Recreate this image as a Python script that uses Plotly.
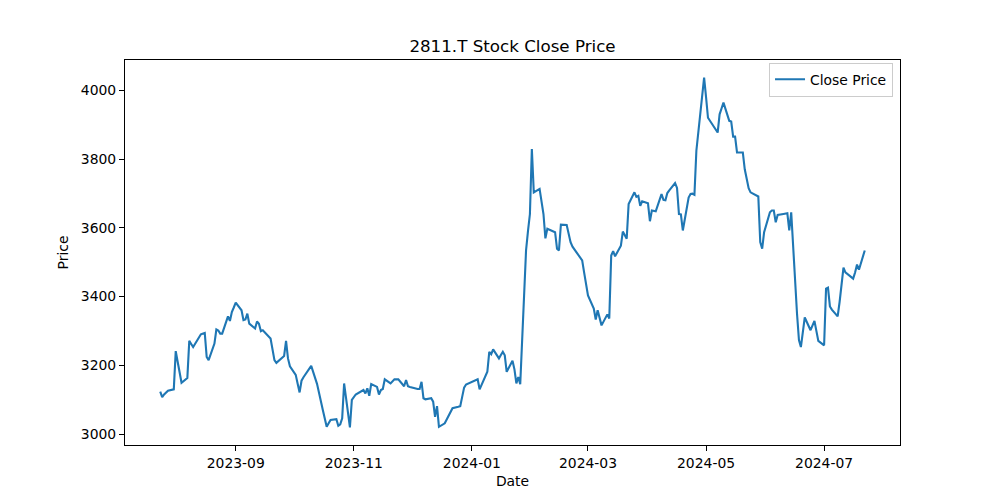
import plotly.graph_objects as go

dates = [
    "2023-07-24", "2023-07-25", "2023-07-26", "2023-07-27", "2023-07-28", "2023-07-31",
    "2023-08-01", "2023-08-02", "2023-08-03", "2023-08-04", "2023-08-07", "2023-08-08",
    "2023-08-09", "2023-08-10", "2023-08-14", "2023-08-15", "2023-08-16", "2023-08-17",
    "2023-08-18", "2023-08-21", "2023-08-22", "2023-08-23", "2023-08-24", "2023-08-25",
    "2023-08-28", "2023-08-29", "2023-08-30", "2023-08-31",
    "2023-09-01", "2023-09-04", "2023-09-05", "2023-09-06", "2023-09-07", "2023-09-08",
    "2023-09-11", "2023-09-12", "2023-09-13", "2023-09-14", "2023-09-15", "2023-09-19",
    "2023-09-20", "2023-09-21", "2023-09-22", "2023-09-25", "2023-09-26", "2023-09-27",
    "2023-09-28", "2023-09-29",
    "2023-10-02", "2023-10-03", "2023-10-04", "2023-10-05", "2023-10-06", "2023-10-10",
    "2023-10-11", "2023-10-12", "2023-10-13", "2023-10-16", "2023-10-17", "2023-10-18",
    "2023-10-19", "2023-10-20", "2023-10-23", "2023-10-24", "2023-10-25", "2023-10-26",
    "2023-10-27", "2023-10-30", "2023-10-31",
    "2023-11-01", "2023-11-02", "2023-11-06", "2023-11-07", "2023-11-08", "2023-11-09",
    "2023-11-10", "2023-11-13", "2023-11-14", "2023-11-15", "2023-11-16", "2023-11-17",
    "2023-11-20", "2023-11-21", "2023-11-22", "2023-11-24", "2023-11-27", "2023-11-28",
    "2023-11-29", "2023-11-30",
    "2023-12-01", "2023-12-04", "2023-12-05", "2023-12-06", "2023-12-07", "2023-12-08",
    "2023-12-11", "2023-12-12", "2023-12-13", "2023-12-14", "2023-12-15", "2023-12-18",
    "2023-12-19", "2023-12-20", "2023-12-21", "2023-12-22", "2023-12-25", "2023-12-26",
    "2023-12-27", "2023-12-28", "2023-12-29",
    "2024-01-04", "2024-01-05", "2024-01-09", "2024-01-10", "2024-01-11", "2024-01-12",
    "2024-01-15", "2024-01-16", "2024-01-17", "2024-01-18", "2024-01-19", "2024-01-22",
    "2024-01-23", "2024-01-24", "2024-01-25", "2024-01-26", "2024-01-29", "2024-01-30",
    "2024-01-31",
    "2024-02-01", "2024-02-02", "2024-02-05", "2024-02-06", "2024-02-07", "2024-02-08",
    "2024-02-09", "2024-02-13", "2024-02-14", "2024-02-15", "2024-02-16", "2024-02-19",
    "2024-02-20", "2024-02-21", "2024-02-22", "2024-02-26", "2024-02-27", "2024-02-28",
    "2024-02-29",
    "2024-03-01", "2024-03-04", "2024-03-05", "2024-03-06", "2024-03-07", "2024-03-08",
    "2024-03-11", "2024-03-12", "2024-03-13", "2024-03-14", "2024-03-15", "2024-03-18",
    "2024-03-19", "2024-03-21", "2024-03-22", "2024-03-25", "2024-03-26", "2024-03-27",
    "2024-03-28", "2024-03-29",
    "2024-04-01", "2024-04-02", "2024-04-03", "2024-04-04", "2024-04-05", "2024-04-08",
    "2024-04-09", "2024-04-10", "2024-04-11", "2024-04-12", "2024-04-15", "2024-04-16",
    "2024-04-17", "2024-04-18", "2024-04-19", "2024-04-22", "2024-04-23", "2024-04-24",
    "2024-04-25", "2024-04-26", "2024-04-30",
    "2024-05-01", "2024-05-02", "2024-05-07", "2024-05-08", "2024-05-09", "2024-05-10",
    "2024-05-13", "2024-05-14", "2024-05-15", "2024-05-16", "2024-05-17", "2024-05-20",
    "2024-05-21", "2024-05-22", "2024-05-23", "2024-05-24", "2024-05-27", "2024-05-28",
    "2024-05-29", "2024-05-30", "2024-05-31",
    "2024-06-03", "2024-06-04", "2024-06-05", "2024-06-06", "2024-06-07", "2024-06-10",
    "2024-06-11", "2024-06-12", "2024-06-13", "2024-06-14", "2024-06-17", "2024-06-18",
    "2024-06-19", "2024-06-20", "2024-06-21", "2024-06-24", "2024-06-25", "2024-06-26",
    "2024-06-27", "2024-06-28",
    "2024-07-01", "2024-07-02", "2024-07-03", "2024-07-04", "2024-07-05", "2024-07-08",
    "2024-07-09", "2024-07-10", "2024-07-11", "2024-07-12", "2024-07-16", "2024-07-17",
    "2024-07-18", "2024-07-19", "2024-07-22",
]

close_price = [
    3123, 3107, 3115, 3122, 3126, 3130,
    3241, 3210, 3180, 3149, 3163, 3271,
    3262, 3253, 3290, 3292, 3294, 3224,
    3215, 3263, 3304, 3301, 3292, 3292,
    3342, 3329, 3355, 3368,
    3382, 3360, 3331, 3333, 3350, 3321,
    3307, 3327, 3321, 3299, 3302, 3278,
    3250, 3215, 3207, 3224, 3227, 3271,
    3220, 3197,
    3172, 3146, 3121, 3155, 3165, 3198,
    3182, 3166, 3146, 3070, 3045, 3021,
    3031, 3041, 3043, 3024, 3028, 3046,
    3147, 3019, 3099,
    3108, 3115, 3128, 3118, 3133, 3111,
    3145, 3137, 3115, 3128, 3131, 3159,
    3147, 3153, 3159, 3159, 3139, 3157,
    3139, 3137,
    3135, 3131, 3131, 3152, 3104, 3101,
    3104, 3094, 3050, 3081, 3021, 3031,
    3042, 3053, 3064, 3075, 3079, 3081,
    3108, 3135, 3144,
    3159, 3130, 3181, 3239, 3232, 3246,
    3220, 3230, 3239, 3229, 3181, 3213,
    3188, 3147, 3166, 3145, 3534, 3590,
    3640,
    3829, 3703, 3713, 3677, 3640, 3569,
    3597, 3587, 3539, 3534, 3609, 3608,
    3585, 3558, 3545, 3510, 3505, 3470,
    3436,
    3403, 3365, 3333, 3360, 3338, 3316,
    3348, 3336, 3519, 3532, 3517, 3548,
    3589, 3568, 3669, 3703, 3690, 3693,
    3664, 3677,
    3671, 3619, 3650, 3649, 3648, 3698,
    3681, 3680, 3701, 3709, 3730, 3716,
    3640, 3639, 3592, 3688, 3698, 3699,
    3696, 3824, 4037,
    3980, 3920, 3877, 3930, 3947, 3964,
    3911, 3909, 3865, 3865, 3819, 3819,
    3770, 3742, 3715, 3703, 3693, 3691,
    3558, 3539, 3587,
    3645, 3650, 3650, 3616, 3637, 3640,
    3640, 3642, 3592, 3645, 3350, 3273,
    3253, 3296, 3339, 3302, 3315, 3329,
    3300, 3271,
    3258, 3423, 3426, 3371, 3362, 3342,
    3384, 3434, 3484, 3470, 3452, 3470,
    3493, 3478, 3534,
]

x_ticks = ["2023-09-01", "2023-11-01", "2024-01-01", "2024-03-01", "2024-05-01", "2024-07-01"]
x_tick_labels = ["2023-09", "2023-11", "2024-01", "2024-03", "2024-05", "2024-07"]
y_ticks = [3000, 3200, 3400, 3600, 3800, 4000]

FONT = "DejaVu Sans"

fig = go.Figure()
fig.add_trace(go.Scatter(
    x=dates, y=close_price, mode="lines", name="Close Price",
    line=dict(color="#1f77b4", width=2.1),
))

fig.update_layout(
    width=1000, height=500,
    margin=dict(l=125, r=100, t=60, b=55),
    paper_bgcolor="white", plot_bgcolor="white",
    font=dict(family=FONT, size=13.9, color="black"),
    title=dict(text="2811.T Stock Close Price", x=0.5125, xanchor="center",
               y=0.908, yanchor="middle", yref="container",
               font=dict(family=FONT, size=16.7, color="black")),
    showlegend=True,
    legend=dict(x=0.991, y=0.993, xanchor="right", yanchor="top",
                bgcolor="rgba(255,255,255,0.8)", bordercolor="#cccccc", borderwidth=1,
                font=dict(family=FONT, size=13.9, color="black"),
                itemwidth=30, tracegroupgap=0),
)

fig.update_xaxes(
    range=["2023-07-05 19:00", "2024-08-09 05:00"],
    tickmode="array", tickvals=x_ticks, ticktext=x_tick_labels,
    showgrid=False, zeroline=False,
    showline=True, linecolor="black", linewidth=1, mirror=True,
    ticks="outside", ticklen=5, tickwidth=1, tickcolor="black",
    title=dict(text="Date", standoff=6, font=dict(family=FONT, size=13.9, color="black")),
)
fig.update_yaxes(
    range=[2968, 4088],
    tickmode="array", tickvals=y_ticks,
    showgrid=False, zeroline=False,
    showline=True, linecolor="black", linewidth=1, mirror=True,
    ticks="outside", ticklen=5, tickwidth=1, tickcolor="black",
    title=dict(text="Price", standoff=8, font=dict(family=FONT, size=13.9, color="black")),
)

fig.write_html("out.html")
